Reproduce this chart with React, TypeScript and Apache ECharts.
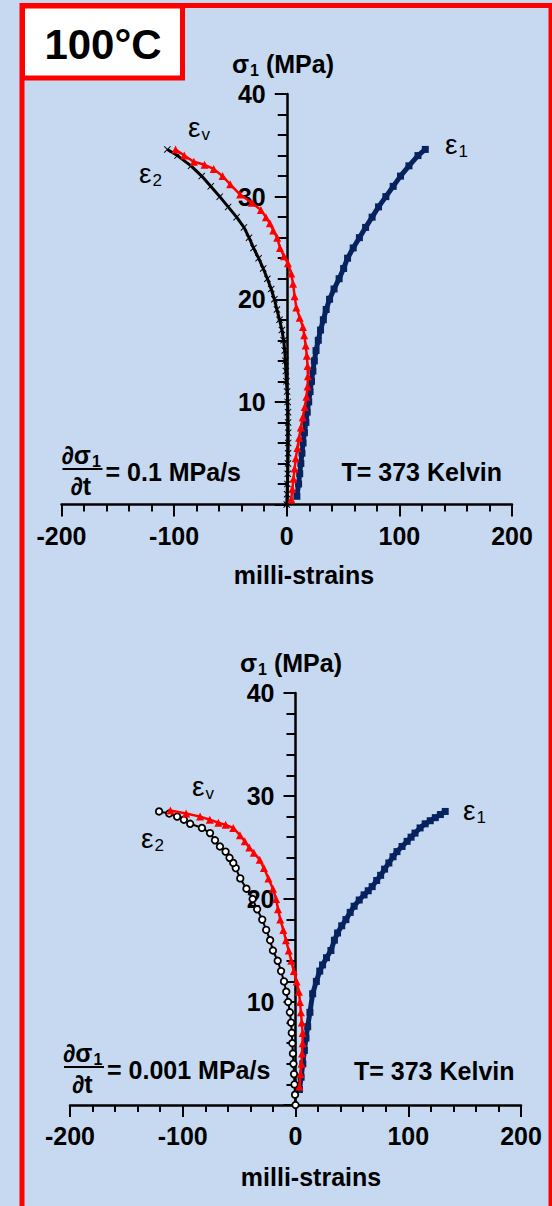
import React, { useEffect, useRef } from "react";
import * as echarts from "echarts";

const FONT = "'Liberation Sans', Arial, sans-serif";
const NAVY = "#06235f";
const RED = "#ff0000";
const BG = "#c6d9f0";

const X_MIN = -200;
const X_MAX = 200;
const X_STEP = 100;
const Y_MIN = 0;
const Y_MAX = 40;
const Y_STEP = 10;

// [milli-strains, sigma1 MPa] — top panel, 0.1 MPa/s
const topE1 = [
  [9, 0.8], [10.5, 2], [11.5, 3], [12.5, 4], [13.5, 5], [14.5, 6], [15.7, 7], [17, 8],
  [18.2, 9], [19.5, 10], [20.7, 11], [22, 12], [23.2, 13], [24.5, 14], [26, 15], [28, 16],
  [30, 17], [32.5, 18], [35, 19], [38, 20], [42, 21], [46.5, 22], [50.5, 23], [54, 24],
  [59, 25], [64.5, 26], [70, 27], [75.8, 28], [81.5, 29], [88, 30], [94.5, 31], [101, 32],
  [108.5, 33], [116.5, 34], [123, 34.6],
];
const topEv = [
  [4, 0.5], [5, 1.5], [6, 2.5], [7, 3.5], [8, 4.5], [9.5, 5.5], [11, 6.5], [12.5, 7.5],
  [14.2, 8.5], [16, 9.5], [17.5, 10.5], [18.5, 11.5], [18.8, 12.5], [18.5, 13.5],
  [17.8, 14.5], [16.8, 15.5], [15.5, 16.5], [14.4, 17.3], [11.5, 18.2], [8.5, 19.2],
  [7, 20.3], [5.6, 21.5], [4, 22.5], [1, 23.5], [-2.5, 24.2], [-6, 25], [-8.5, 26],
  [-12, 26.7], [-15, 27.4], [-18.5, 28.0], [-23, 28.7], [-31, 29.4],
  [-41.4, 30.2], [-50.2, 31.2], [-57, 32], [-64.9, 32.7], [-73, 33.1], [-82.5, 33.4],
  [-91, 34], [-98.7, 34.6],
];
const topE2 = [
  [0, 0], [0.3, 1], [0.6, 2], [0.9, 3], [1.1, 4], [1.2, 5], [1.3, 6], [1.3, 7], [1.2, 8],
  [1.1, 9], [0.8, 10], [0.3, 11], [-0.3, 12], [-0.8, 13], [-1.2, 14], [-1.8, 15],
  [-2.8, 16], [-4.3, 17], [-6.4, 18], [-8.7, 19], [-11, 20], [-13.8, 21], [-17.2, 22],
  [-20.9, 23], [-25, 24], [-29.5, 25], [-33.5, 26], [-38, 27], [-44.5, 28], [-52, 29],
  [-59.5, 30], [-67.5, 31], [-75.5, 32], [-85, 33], [-97, 34], [-106, 34.6],
];

// bottom panel, 0.001 MPa/s
const botE1 = [
  [3.5, 1.5], [5, 2.7], [6.5, 4], [7.9, 5.3], [9.3, 6.5], [10.8, 7.6], [12.8, 9],
  [15.2, 10.8], [18.5, 12], [21.5, 13], [24, 13.6], [27.5, 14.3], [31.4, 15], [34.5, 16],
  [37.3, 16.7], [41, 17.4], [44.7, 18], [48.5, 18.7], [52, 19.3], [56.5, 19.9],
  [60.8, 20.4], [64.5, 20.8], [68, 21.2], [72, 21.8], [75.5, 22.3], [79, 22.9],
  [82.8, 23.5], [86.5, 24.1], [90, 24.6], [94.5, 25.1], [99, 25.6], [102.5, 26],
  [106, 26.4], [110.5, 26.9], [115, 27.3], [119.5, 27.6], [124, 27.9], [128.5, 28.2],
  [132.8, 28.5],
];
const botEv = [
  [3.5, 1.8], [4.5, 3], [5.3, 4], [5.8, 5], [6.3, 6], [6.3, 7], [5.6, 8], [4.8, 9], [4, 10],
  [3, 11], [1, 12], [-1.5, 13], [-3.8, 14], [-6, 15], [-8.5, 16], [-10.8, 17], [-13.5, 18],
  [-15.5, 19], [-17.2, 20], [-20, 21], [-24, 22], [-28, 23], [-31.7, 23.8], [-37, 24.5],
  [-41, 25], [-45, 25.6], [-49.3, 26.2], [-55.2, 26.9], [-62, 27.2], [-68.4, 27.4],
  [-76, 27.7], [-84.6, 28], [-97, 28.3], [-111, 28.6],
];
const botE2 = [
  [0, 0], [-0.4, 1], [-0.9, 2], [-1.3, 3], [-1.8, 4], [-2.3, 5], [-2.8, 6], [-3.3, 7],
  [-3.9, 8], [-5, 9], [-6.5, 10], [-8.2, 11], [-10.2, 12], [-12.8, 13], [-15.8, 14],
  [-20, 15], [-22.5, 16], [-26, 17], [-29.5, 18], [-34, 19], [-38, 20], [-43.5, 21],
  [-49, 22], [-53, 23], [-55.2, 23.5], [-58.5, 24], [-62, 24.6], [-67, 25.1],
  [-71.4, 25.7], [-75.8, 26.4], [-83, 26.9], [-93.4, 27.3], [-99, 27.7], [-105, 28],
  [-112, 28.3], [-121, 28.5],
];

const rateLabels = ["= 0.1 MPa/s", "= 0.001 MPa/s"];
const tempLabel = "T= 373 Kelvin";
const xName = "milli-strains";

const CROSS = "path://M0,1L1,0L5,4L9,0L10,1L6,5L10,9L9,10L5,6L1,10L0,9L4,5Z";

const GRIDS = [
  { left: 61.5, top: 94, width: 450.5, height: 410.5 },
  { left: 70, top: 693, width: 451, height: 412 },
];

let measureCtx: CanvasRenderingContext2D | null = null;
function textWidth(text: string, size: number, weight: string) {
  if (!measureCtx) measureCtx = document.createElement("canvas").getContext("2d");
  if (!measureCtx) return text.length * size * 0.55;
  measureCtx.font = `${weight} ${size}px ${FONT}`;
  return measureCtx.measureText(text).width;
}

function xAxisCfg(gridIndex: number, margin: number) {
  return {
    type: "value",
    gridIndex,
    min: X_MIN,
    max: X_MAX,
    interval: X_STEP,
    axisLine: { show: true, onZero: false, lineStyle: { color: "#000", width: 2.5 } },
    axisTick: { show: true, inside: false, length: 12, lineStyle: { color: "#000", width: 2 } },
    minorTick: { show: true, splitNumber: 5, length: 7, lineStyle: { color: "#000", width: 2 } },
    axisLabel: { color: "#000", fontSize: 25, fontWeight: "bold", fontFamily: FONT, margin },
    splitLine: { show: false },
    minorSplitLine: { show: false },
  };
}
function yAxisCfg(gridIndex: number) {
  const g = GRIDS[gridIndex];
  // place the axis at x = 0 of the strain scale
  const zeroOffset = ((0 - X_MIN) / (X_MAX - X_MIN)) * g.width;
  return {
    type: "value",
    gridIndex,
    position: "left",
    offset: -zeroOffset,
    min: Y_MIN,
    max: Y_MAX,
    interval: Y_STEP,
    axisLine: { show: true, onZero: false, lineStyle: { color: "#000", width: 2.5 } },
    axisTick: { show: true, inside: false, length: 12, lineStyle: { color: "#000", width: 2 } },
    minorTick: { show: true, splitNumber: 5, length: 9, lineStyle: { color: "#000", width: 2 } },
    axisLabel: {
      color: "#000", fontSize: 25, fontWeight: "bold", fontFamily: FONT, margin: 21,
      showMinLabel: false,
    },
    splitLine: { show: false },
    minorSplitLine: { show: false },
  };
}

function txt(text: string, x: number, y: number, size: number, weight: string, align = "left") {
  return {
    type: "text", x, y, z: 10,
    style: { text, fill: "#000", fontSize: size, fontWeight: weight, fontFamily: FONT, align, verticalAlign: "middle" },
  };
}
function bold(text: string, x: number, y: number, size = 25, align = "left") {
  return txt(text, x, y, size, "bold", align);
}
// main text + lowered subscript (+ optional trailing text)
function subText(main: string, s: string, x: number, y: number, size: number, weight: string, tail = "") {
  const ss = Math.round(size * 0.62);
  const w1 = textWidth(main, size, weight);
  const w2 = textWidth(s, ss, weight);
  const els: any[] = [
    txt(main, x, y, size, weight),
    txt(s, x + w1 + 1, y + size * 0.26, ss, weight),
  ];
  if (tail) els.push(txt(tail, x + w1 + 1 + w2, y, size, weight));
  return els;
}
function derivative(x: number, yTop: number, rate: string) {
  return [
    ...subText("∂σ", "1", x, yTop, 25, "bold"),
    { type: "line", z: 10, shape: { x1: x + 1, y1: yTop + 14, x2: x + 41, y2: yTop + 14 }, style: { stroke: "#000", lineWidth: 2 } },
    bold("∂t", x + 9, yTop + 31),
    bold(rate, x + 44, yTop + 17),
  ];
}

export default function App() {
  const ref = useRef<HTMLDivElement>(null);
  useEffect(() => {
    document.body.style.margin = "0";
    const chart = echarts.init(ref.current!, null, { renderer: "svg" });
    const lineSeries = (xi: number, data: number[][], kind: string) => {
      const base: any = { type: "line", xAxisIndex: xi, yAxisIndex: xi, data, clip: false, silent: true };
      if (kind === "e1") {
        return { ...base, z: 3, symbol: "rect", symbolSize: 7, lineStyle: { color: NAVY, width: 5 }, itemStyle: { color: NAVY } };
      }
      if (kind === "ev") {
        return { ...base, z: 5, symbol: "triangle", symbolSize: 8, lineStyle: { color: RED, width: 2.5 }, itemStyle: { color: RED } };
      }
      if (kind === "e2top") {
        return { ...base, z: 4, symbol: CROSS, symbolSize: 7, lineStyle: { color: "#000", width: 3 }, itemStyle: { color: "#000" } };
      }
      return { ...base, z: 4, symbol: "circle", symbolSize: 6.5, lineStyle: { color: "#000", width: 2 }, itemStyle: { color: "#fff", borderColor: "#000", borderWidth: 1.8 } };
    };
    const option: any = {
      animation: false,
      backgroundColor: BG,
      grid: GRIDS,
      xAxis: [xAxisCfg(0, 19), xAxisCfg(1, 18)],
      yAxis: [yAxisCfg(0), yAxisCfg(1)],
      series: [
        lineSeries(0, topE1, "e1"),
        lineSeries(0, topE2, "e2top"),
        lineSeries(0, topEv, "ev"),
        lineSeries(1, botE1, "e1"),
        lineSeries(1, botE2, "e2bot"),
        lineSeries(1, botEv, "ev"),
      ],
      graphic: {
        elements: [
          { type: "rect", z: 1, shape: { x: 22, y: 5.5, width: 529, height: 1230 }, style: { fill: "none", stroke: RED, lineWidth: 5 } },
          { type: "rect", z: 11, shape: { x: 22.5, y: 6, width: 160, height: 72 }, style: { fill: "#fff", stroke: RED, lineWidth: 5 } },
          { type: "text", z: 12, x: 103, y: 44, style: { text: "100°C", fill: "#000", fontSize: 42, fontWeight: "bold", fontFamily: FONT, align: "center", verticalAlign: "middle" } },
          ...subText("σ", "1", 232, 64, 25, "bold", " (MPa)"),
          ...subText("σ", "1", 240, 663, 25, "bold", " (MPa)"),
          bold(xName, 304, 575, 25, "center"),
          bold(xName, 311, 1177, 25, "center"),
          bold(tempLabel, 341.5, 472),
          bold(tempLabel, 354, 1071),
          ...derivative(61.5, 455, rateLabels[0]),
          ...derivative(63, 1053, rateLabels[1]),
          ...subText("ε", "1", 445, 144, 28, "normal"),
          ...subText("ε", "v", 188, 127, 28, "normal"),
          ...subText("ε", "2", 139, 173, 28, "normal"),
          ...subText("ε", "1", 463, 810, 28, "normal"),
          ...subText("ε", "v", 192, 786, 28, "normal"),
          ...subText("ε", "2", 141, 838, 28, "normal"),
        ],
      },
    };
    chart.setOption(option);
    return () => chart.dispose();
  }, []);
  return <div ref={ref} style={{ width: 552, height: 1206 }} />;
}
